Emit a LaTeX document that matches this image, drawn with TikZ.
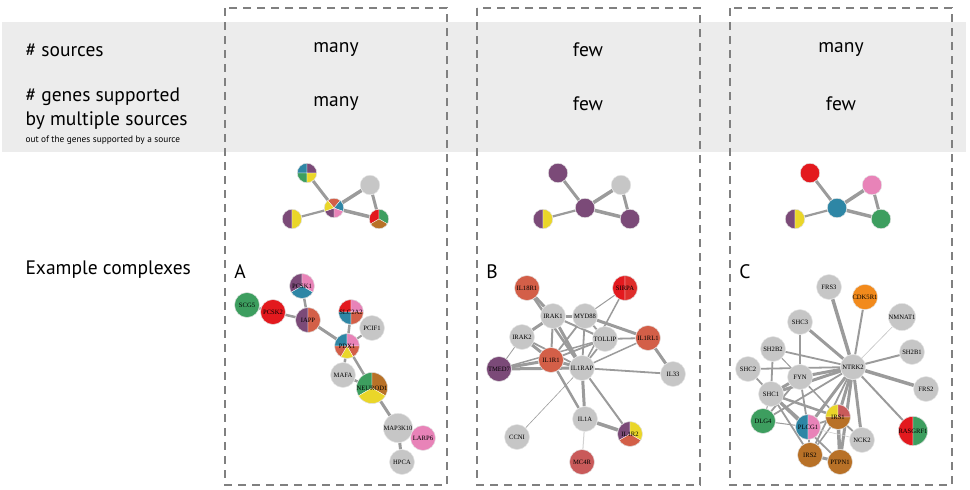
\documentclass[tikz,border=0pt]{standalone}
\usepackage{fontspec}
\setmainfont{PT Sans}
\newfontfamily\genefont{Liberation Serif}
\usetikzlibrary{backgrounds}

\definecolor{cpurple}{HTML}{7B4A78}
\definecolor{cyellow}{HTML}{EAD629}
\definecolor{cred}{HTML}{E3191E}
\definecolor{ccoral}{HTML}{D35F48}
\definecolor{cblue}{HTML}{2E86A5}
\definecolor{cgreen}{HTML}{3D9E5F}
\definecolor{cpink}{HTML}{E883B8}
\definecolor{cbrown}{HTML}{B87127}
\definecolor{corange}{HTML}{F28A1C}
\definecolor{cgray}{HTML}{C6C6C6}
\definecolor{cmc}{HTML}{C95A5A}
\definecolor{edgegray}{HTML}{9B9B9B}
\definecolor{band}{HTML}{ECECEC}

% one wedge of a pie node, angles in degrees
\newcommand{\slice}[3]{\fill[#3,draw=white,line width=.3pt] (path picture bounding box.center) -- ++(#1:16pt) arc[start angle=#1,end angle=#2,radius=16pt] -- cycle;}

\begin{document}
\begin{tikzpicture}[x=1pt,y=-1pt,
  big/.style={font=\fontsize{19.5}{22}\selectfont},
  gn/.style={circle,fill=cgray,draw=white!80!gray,line width=.5pt,minimum size=25pt,inner sep=0pt,font=\genefont\fontsize{6.6}{6.6}\selectfont},
  sn/.style={circle,fill=cgray,draw=white!80!gray,line width=.5pt,minimum size=19.5pt,inner sep=0pt},
  ed/.style={draw=edgegray,line width=#1},
  ed/.default=1.5,
  box/.style={draw=gray,line width=1.3pt,dash pattern=on 8pt off 6pt}]
\useasboundingbox (0,0) rectangle (970,490);

% header band
\fill[band] (2,22) rectangle (966,152);
\draw[box] (225,8) rectangle (447,485);
\draw[box] (477,8) rectangle (700,485);
\draw[box] (730,8) rectangle (952,485);

\node[big,anchor=west] (hsrc) at (22,50) {\# sources};
\node[big,anchor=west] (hgen) at (22,97) {\# genes supported};
\node[big,anchor=west] (hmul) at (22,121) {by multiple sources};
\node[anchor=west,font=\fontsize{9.3}{10}\selectfont] (hout) at (22,140) {out of the genes supported by a source};
\node[big,anchor=west] (hex) at (22,270) {Example complexes};

\node[big] (vA1) at (336,50) {many};
\node[big] (vA2) at (336,104) {many};
\node[big] (vB1) at (588,50) {few};
\node[big] (vB2) at (588,104) {few};
\node[big] (vC1) at (841,50) {many};
\node[big] (vC2) at (841,104) {few};

\node[big] (labA) at (240,272) {A};
\node[big] (labB) at (492,272) {B};
\node[big] (labC) at (745,272) {C};

% small sketch networks
\node[sn,path picture={\slice{90}{180}{cblue}\slice{0}{90}{cpurple}\slice{180}{270}{cgreen}\slice{270}{360}{cyellow}}] (mAtl) at (307,173) {};
\node[sn,path picture={\slice{50}{130}{ccoral}\slice{-20}{50}{cblue}\slice{-90}{-20}{cpink}\slice{200}{270}{cpurple}\slice{130}{200}{cyellow}}] (mAc) at (334,208) {};
\node[sn,path picture={\slice{90}{270}{cpurple}\slice{-90}{90}{cyellow}}] (mAl) at (292,219) {};
\node[sn] (mAur) at (370,185) {};
\node[sn,path picture={\slice{90}{210}{cred}\slice{-30}{90}{cgreen}\slice{210}{330}{cbrown}}] (mAlr) at (379,219) {};

\node[sn,fill=cpurple] (mBtl) at (558,173) {};
\node[sn,fill=cpurple] (mBc) at (585,208) {};
\node[sn,path picture={\slice{90}{270}{cpurple}\slice{-90}{90}{cyellow}}] (mBl) at (543,219) {};
\node[sn] (mBur) at (621,185) {};
\node[sn,fill=cpurple] (mBlr) at (630,219) {};

\node[sn,fill=cred] (mCtl) at (810,173) {};
\node[sn,fill=cblue] (mCc) at (837,208) {};
\node[sn,path picture={\slice{90}{270}{cpurple}\slice{-90}{90}{cyellow}}] (mCl) at (795,219) {};
\node[sn,fill=cpink] (mCur) at (872,185) {};
\node[sn,fill=cgreen] (mClr) at (881,219) {};

% complex A
\foreach \n/\x/\y/\c in {SCG5/247/305/cgreen, PCSK2/273/312/cred, PCIF1/372/328/cgray,
    MAFA/343/375/cgray, MAP3K10/398/428/cgray, LARP6/423/438/cpink, HPCA/402/462/cgray}
  \node[gn,fill=\c] (\n) at (\x,\y) {\n};
\node[gn,path picture={\slice{90}{210}{cpurple}\slice{-30}{90}{cpink}\slice{210}{330}{cblue}}] (PCSK1) at (302,286) {PCSK1};
\node[gn,path picture={\slice{90}{270}{cpurple}\slice{-90}{90}{ccoral}}] (IAPP) at (308,320) {IAPP};
\node[gn,path picture={\slice{90}{180}{cred}\slice{0}{90}{cpink}\slice{180}{270}{cblue}\slice{270}{360}{ccoral}}] (SLC2A2) at (351,312) {SLC2A2};
\node[gn,path picture={\slice{90}{180}{cblue}\slice{0}{90}{cpink}\slice{-60}{0}{ccoral}\slice{240}{300}{cyellow}\slice{180}{240}{ccoral}}] (PDX1) at (347,346) {PDX1};
\node[gn,path picture={\slice{90}{210}{cgreen}\slice{-30}{90}{cbrown}\slice{210}{330}{cyellow}}] (NEUROD1) at (372,388) {NEUROD1};

% complex B
\foreach \n/\x/\y/\c in {IL18R1/527/288/ccoral, IRAK1/553/316/cgray, MYD88/585/316/cgray,
    IRAK2/522/337/cgray, TOLLIP/605/339/cgray, IL1RL1/648/338/ccoral, IL1R1/551/360/ccoral,
    TMED7/499/369/cpurple, IL1RAP/582/368/cgray, IL33/673/374/cgray, IL1A/585/419/cgray,
    CCNI/517/437/cgray, MC4R/582/462/cmc}
  \node[gn,fill=\c] (\n) at (\x,\y) {\n};
\node[gn,path picture={\slice{90}{270}{cred}\slice{-90}{90}{cred!70!ccoral}}] (SIRPA) at (625,288) {SIRPA};
\node[gn,path picture={\slice{90}{210}{cpurple}\slice{-30}{90}{cyellow}\slice{210}{330}{ccoral}}] (IL1R2) at (630,434) {IL1R2};

% complex C
\foreach \n/\x/\y/\c in {FRS3/829/287/cgray, CDK5R1/865/297/corange, NMNAT1/902/317/cgray,
    SHC3/800/322/cgray, SH2B2/773/349/cgray, SH2B1/912/352/cgray, NTRK2/853/367/cgray,
    SHC2/748/369/cgray, FYN/800/377/cgray, FRS2/926/389/cgray, SHC1/771/394/cgray,
    DLG4/763/421/cgreen, NCK2/862/440/cgray, IRS2/810/455/cbrown, PTPN1/840/462/cbrown}
  \node[gn,fill=\c] (\n) at (\x,\y) {\n};
\node[gn,path picture={\slice{90}{180}{cyellow}\slice{0}{90}{cmc}\slice{180}{360}{cbrown}}] (IRS1) at (838,417) {IRS1};
\node[gn,path picture={\slice{90}{270}{cblue}\slice{-90}{90}{cpink}}] (PLCG1) at (808,427) {PLCG1};
\node[gn,path picture={\slice{90}{270}{cred}\slice{-90}{90}{cgreen}}] (RASGRF1) at (913,431) {RASGRF1};

\begin{scope}[on background layer]
\foreach \m in {A,B,C}{
  \draw[ed=3] (m\m c) -- (m\m tl);
  \draw[ed=2.2] (m\m c) -- (m\m l);
  \draw[ed=3.5] (m\m c) -- (m\m ur);
  \draw[ed=3.5] (m\m c) -- (m\m lr);
  \draw[ed=3] (m\m ur) -- (m\m lr);
}
\foreach \a/\b/\w in {PCSK1/IAPP/2.5, SCG5/PCSK2/2.5, PCSK2/IAPP/2.5, IAPP/PDX1/3,
    SLC2A2/PDX1/2.5, PCIF1/PDX1/2, PDX1/MAFA/2.5, PDX1/NEUROD1/2.5, MAFA/NEUROD1/2.5,
    NEUROD1/MAP3K10/3, MAP3K10/LARP6/2.5, MAP3K10/HPCA/3}
  \draw[ed=\w] (\a) -- (\b);
\foreach \a/\b/\w in {IL18R1/IRAK1/3, IL18R1/IL1RAP/2.5, IRAK1/MYD88/3, IRAK1/IRAK2/3,
    IRAK1/IL1R1/2, IRAK1/IL1RAP/3, IRAK1/TOLLIP/2, MYD88/IL1RL1/3, MYD88/TOLLIP/1.8,
    MYD88/IL1R1/1.8, MYD88/IL1RAP/1.8, SIRPA/MYD88/1, SIRPA/IL1RAP/1.5, IRAK2/IL1R1/3,
    IRAK2/IL1RAP/1.8, IRAK2/TMED7/0.8, TOLLIP/IL1RL1/1.8, TOLLIP/IL1R1/1.8, TOLLIP/IL1RAP/1.8,
    TOLLIP/TMED7/1.5, IL1RL1/IL33/3, IL1RL1/IL1RAP/1.5, IL1R1/TMED7/3, IL1R1/IL1RAP/3,
    IL1R1/IL1A/2.5, TMED7/IL1RAP/3, IL1RAP/IL33/1.8, IL1RAP/IL1A/3, IL1RAP/IL1R2/2,
    IL1A/IL1R2/3.5}
  \draw[ed=\w] (\a) -- (\b);
\draw[ed=0.6] (IL1RAP) -- (CCNI);
\draw[ed=1,draw=edgegray!45] (IL1A) -- (MC4R);
\foreach \b/\w in {FRS3/3.5, CDK5R1/2, SHC3/3, SH2B2/1.8, SH2B1/2, SHC2/1.8, FYN/3,
    FRS2/3.5, SHC1/3, DLG4/1.8, IRS1/3, PLCG1/3, NCK2/3, RASGRF1/2, IRS2/1.8, PTPN1/3}
  \draw[ed=\w] (NTRK2) -- (\b);
\draw[ed=0.6,draw=edgegray!60] (NTRK2) -- (NMNAT1);
\foreach \a/\b/\w in {SHC3/FYN/2, SH2B2/SHC1/1.8, SH2B2/FYN/1, SHC2/SHC1/1.8, FYN/SHC1/3,
    FYN/DLG4/1.8, FYN/PLCG1/1.8, FYN/IRS1/1.5, SHC1/DLG4/1, SHC1/PLCG1/3, SHC1/IRS1/2.5,
    SHC1/IRS2/1.8, SHC1/PTPN1/1.8, DLG4/PLCG1/1, PLCG1/IRS1/1.8, PLCG1/IRS2/1.8,
    IRS1/PTPN1/3.5, IRS1/IRS2/1.5, IRS1/NCK2/1.8, IRS2/PTPN1/3}
  \draw[ed=\w] (\a) -- (\b);
\draw[ed=0.6,draw=edgegray!50] (PLCG1) -- (NCK2);
\end{scope}

\end{tikzpicture}
\end{document}
